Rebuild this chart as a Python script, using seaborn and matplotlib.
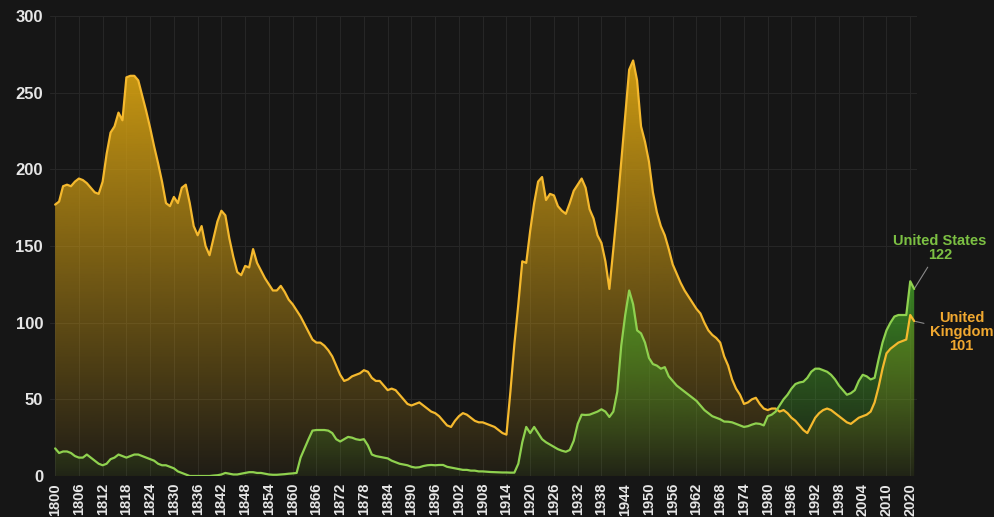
import numpy as np
import pandas as pd
import matplotlib.pyplot as plt
import seaborn as sns
from matplotlib.colors import to_rgb

# years on the category axis (the source jumps from 2015 to 2020)
years = list(range(1800, 2016)) + [2020, 2021]

# UK public debt, % of GDP
uk_debt = [
    177, 179, 189, 190, 189, 192, 194, 193, 191, 188,   # 1800s
    185, 184, 192, 210, 224, 228, 237, 232, 260, 261,   # 1810s
    261, 258, 248, 238, 227, 215, 204, 192, 178, 176,   # 1820s
    182, 178, 188, 190, 178, 163, 157, 163, 150, 144,   # 1830s
    155, 166, 173, 170, 155, 143, 133, 131, 137, 136,   # 1840s
    148, 139, 134, 129, 125, 121, 121, 124, 120, 115,   # 1850s
    112, 108, 104, 99, 94, 89, 87, 87, 85, 82,          # 1860s
    78, 72, 66, 62, 63, 65, 66, 67, 69, 68,             # 1870s
    64, 62, 62, 59, 56, 57, 56, 53, 50, 47,             # 1880s
    46, 47, 48, 46, 44, 42, 41, 39, 36, 33,             # 1890s
    32, 36, 39, 41, 40, 38, 36, 35, 35, 34,             # 1900s
    33, 32, 30, 28, 27, 55, 86, 112, 140, 139,          # 1910s
    160, 178, 192, 195, 180, 184, 183, 176, 173, 171,   # 1920s
    178, 186, 190, 194, 188, 174, 168, 157, 152, 140,   # 1930s
    122, 148, 175, 205, 235, 265, 271, 258, 228, 218,   # 1940s
    205, 185, 172, 163, 157, 148, 138, 132, 126, 121,   # 1950s
    117, 113, 109, 106, 100, 95, 92, 90, 87, 78,        # 1960s
    72, 63, 57, 53, 47, 48, 50, 51, 47, 44,             # 1970s
    43, 44, 44, 42, 43, 41, 38, 36, 33, 30,             # 1980s
    28, 33, 38, 41, 43, 44, 43, 41, 39, 37,             # 1990s
    35, 34, 36, 38, 39, 40, 42, 48, 58, 70,             # 2000s
    80, 83, 85, 87, 88, 89,                             # 2010-2015
    105, 101,                                           # 2020, 2021
]

# US public debt, % of GDP
us_debt = [
    18, 15, 16, 16, 15, 13, 12, 12, 14, 12,
    10, 8, 7, 8, 11, 12, 14, 13, 12, 13,
    14, 14, 13, 12, 11, 10, 8, 7, 7, 6,
    5, 3, 2, 1, 0, 0, 0, 0, 0, 0,
    0.3, 0.5, 1, 2, 1.5, 1, 1, 1.5, 2, 2.5,
    2.5, 2, 2, 1.5, 1, 0.8, 0.8, 1, 1.2, 1.5,
    1.7, 2, 12, 18, 24, 29.6, 30, 30, 30, 29.6,
    28, 24, 22.5, 24, 25.5, 25, 24, 23.5, 24, 20,
    14, 13, 12.5, 12, 11.5, 10, 9, 8, 7.5, 7,
    6, 5.5, 5.7, 6.5, 7, 7.2, 7, 7.2, 7.2, 6,
    5.5, 5, 4.5, 4, 4, 3.5, 3.5, 3, 3, 2.8,
    2.6, 2.5, 2.4, 2.3, 2.3, 2.2, 2.2, 8, 22, 32,
    28, 32, 28, 24, 22, 20.5, 19, 17.5, 16.5, 15.8,
    17, 23, 34, 40, 39.8, 40, 41, 42, 43.5, 42,
    38.5, 42, 55, 85, 105, 121, 112, 95, 93, 87,
    77, 73, 72, 70, 71, 65, 62, 59, 57, 55,
    53, 51, 49, 46, 43, 41, 39, 38, 37, 35.5,
    35.4, 35, 34, 33, 32, 32.5, 33.5, 34.3, 34, 33,
    39, 40, 42, 46, 50, 53, 57, 60, 61, 61.5,
    64, 68, 70, 70, 69, 68, 66, 63, 59, 56,
    53, 54, 56, 62, 66, 65, 63, 64, 76, 87,
    95, 100, 104, 105, 105, 105,
    127, 122,
]

bg = "#161616"
uk_line = "#f5b92e"
us_line = "#8fd14f"
uk_fill = "#d6a112"
us_fill = "#44a026"

sns.set_theme(style="dark", rc={
    "figure.facecolor": bg,
    "axes.facecolor": bg,
    "axes.edgecolor": bg,
    "grid.color": "#262626",
    "text.color": "#e6e6e6",
    "xtick.color": "#e6e6e6",
    "ytick.color": "#e6e6e6",
})
plt.rcParams['font.family'] = ['Liberation Sans', 'DejaVu Sans']

df = pd.DataFrame({"pos": np.arange(len(years)), "year": years,
                   "uk": uk_debt, "us": us_debt})

fig = plt.figure(figsize=(9.94, 5.17), dpi=100)
ax = fig.add_axes([0.0503, 0.0793, 0.8722, 0.8897])


def gradient_fill(ax, x, y, color, a_bot, a_top):
    # fill under the line with a vertical fade, clipped to the area shape
    poly = ax.fill_between(x, y, 0, color="none", lw=0)
    grad = np.zeros((256, 1, 4))
    grad[:, 0, :3] = to_rgb(color)
    grad[:, 0, 3] = np.linspace(a_bot, a_top, 256)
    img = ax.imshow(grad, extent=[x.min(), x.max(), 0, y.max()],
                    origin="lower", aspect="auto", zorder=1)
    img.set_clip_path(poly.get_paths()[0], transform=ax.transData)


gradient_fill(ax, df["pos"].values, df["uk"].values, uk_fill, 0.05, 0.95)
gradient_fill(ax, df["pos"].values, df["us"].values, us_fill, 0.06, 0.8)

sns.lineplot(data=df, x="pos", y="uk", color=uk_line, lw=1.6, ax=ax, zorder=3)
sns.lineplot(data=df, x="pos", y="us", color=us_line, lw=1.6, ax=ax, zorder=4)

ax.set_xlim(-1.3, 217.7)
ax.set_ylim(0, 300)
ax.set_xticks(df["pos"].values[::6])
ax.set_xticklabels(df["year"].values[::6], rotation=90, fontsize=10.5, fontweight="bold")
ax.set_yticks(range(0, 301, 50))
ax.set_yticklabels(range(0, 301, 50), fontsize=12, fontweight="bold")
ax.tick_params(length=0, pad=5)
ax.grid(True, axis="both", color="#262626", lw=0.8)
ax.set_xlabel("")
ax.set_ylabel("")
for s in ax.spines.values():
    s.set_visible(False)

ax.annotate("United States\n122", xy=(217, us_debt[-1]), xytext=(223.5, 149),
            ha="center", va="center", color="#7cc043", fontsize=10.5,
            fontweight="bold", linespacing=1.0, annotation_clip=False,
            arrowprops=dict(arrowstyle="-", color="#8a8a8a", lw=0.8,
                            shrinkA=2, shrinkB=1))
ax.annotate("United\nKingdom\n101", xy=(217, uk_debt[-1]), xytext=(229, 94),
            ha="center", va="center", color="#f0a830", fontsize=10.5,
            fontweight="bold", linespacing=1.0, annotation_clip=False,
            arrowprops=dict(arrowstyle="-", color="#8a8a8a", lw=0.8,
                            shrinkA=2, shrinkB=1))

fig.savefig("out.png", dpi=100, facecolor=bg)
